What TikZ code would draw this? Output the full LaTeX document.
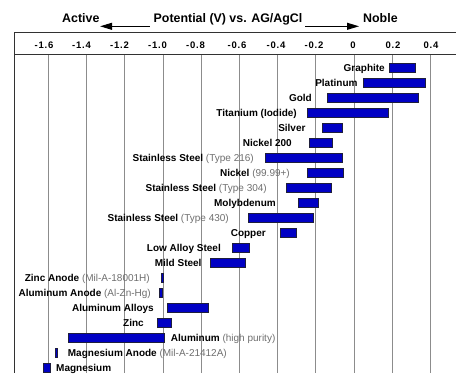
\documentclass[tikz,border=0pt]{standalone}
\usepackage{fontspec}
\setmainfont{Liberation Sans}
\usetikzlibrary{arrows.meta}
\definecolor{barblue}{RGB}{0,0,196}
\definecolor{baredge}{RGB}{30,30,60}
\definecolor{gridgray}{RGB}{140,140,140}
\definecolor{framegray}{RGB}{50,50,50}
\definecolor{notegray}{RGB}{110,110,110}
\begin{document}
\begin{tikzpicture}[x=1pt,y=-1pt,
  bar/.style={draw=baredge,line width=0.6pt,fill=barblue,inner sep=0pt,minimum height=9pt,anchor=west},
  lab/.style={font=\fontsize{10}{12}\selectfont\bfseries,inner sep=0pt},
  tick/.style={font=\fontsize{9.5}{11}\selectfont\bfseries\addfontfeature{LetterSpace=8},inner sep=0pt,anchor=base},
  ttl/.style={font=\fontsize{12.4}{14}\selectfont\bfseries,inner sep=0pt,anchor=base west},
  gridline/.style={draw=gridgray,line width=0.8pt},
  frame/.style={draw=framegray,line width=0.9pt},
  tarrow/.style={-{Triangle[length=12pt,width=7pt]},line width=1pt}]
\useasboundingbox (0,0) rectangle (456,373);
\newcommand{\nt}[1]{{\mdseries\color{notegray}#1}}
% title
\node[ttl] (act) at (62,22) {Active};
\node[ttl] (pot) at (153.5,22) {Potential (V) vs. AG/AgCl};
\node[ttl] (nob) at (363,22) {Noble};
\draw[tarrow] ([xshift=-4pt,yshift=-4.3pt]pot.base west) -- ([xshift=0.5pt,yshift=-4.3pt]act.base east);
\draw[tarrow] ([xshift=3pt,yshift=-4.3pt]pot.base east) -- ([xshift=-4pt,yshift=-4.3pt]nob.base west);
% grid
\foreach \gx in {48.4,86.6,124.8,163,201.2,239.4,277.6,315.8,354,392.2,430.4}
  \draw[gridline] (\gx,54.5) -- (\gx,373);
% frame
\draw[frame] (456,32.5) -- (14,32.5) -- (14,373);
\draw[frame] (14,54.5) -- (456,54.5);
% ticks
\node[tick] (t1) at (44,48.6) {-1.6};
\node[tick] (t2) at (81.5,48.6) {-1.4};
\node[tick] (t3) at (119.5,48.6) {-1.2};
\node[tick] (t4) at (157.5,48.6) {-1.0};
\node[tick] (t5) at (195.5,48.6) {-0.8};
\node[tick] (t6) at (237,48.6) {-0.6};
\node[tick] (t7) at (276,48.6) {-0.4};
\node[tick] (t8) at (314,48.6) {-0.2};
\node[tick] (t9) at (353,48.6) {0};
\node[tick] (t10) at (393,48.6) {0.2};
\node[tick] (t11) at (431,48.6) {0.4};
% bars
\node[bar,minimum width=26pt] (b0) at (389,67.7) {};
\node[bar,minimum width=62pt] (b1) at (363,82.7) {};
\node[bar,minimum width=91pt] (b2) at (327,97.7) {};
\node[bar,minimum width=81pt] (b3) at (307,112.7) {};
\node[bar,minimum width=20pt] (b4) at (322,127.7) {};
\node[bar,minimum width=23pt] (b5) at (309,142.7) {};
\node[bar,minimum width=77pt] (b6) at (265,157.7) {};
\node[bar,minimum width=36pt] (b7) at (307,172.7) {};
\node[bar,minimum width=45pt] (b8) at (286,187.7) {};
\node[bar,minimum width=20pt] (b9) at (298,202.7) {};
\node[bar,minimum width=65pt] (b10) at (248,217.7) {};
\node[bar,minimum width=16pt] (b11) at (280,232.7) {};
\node[bar,minimum width=17pt] (b12) at (232,247.7) {};
\node[bar,minimum width=35pt] (b13) at (210,262.7) {};
\node[bar,minimum width=2.3pt] (b14) at (161,277.7) {};
\node[bar,minimum width=2.5pt] (b15) at (159.4,292.7) {};
\node[bar,minimum width=41.6pt] (b16) at (166.7,307.7) {};
\node[bar,minimum width=14pt] (b17) at (156.7,322.7) {};
\node[bar,minimum width=96pt] (b18) at (68.3,337.7) {};
\node[bar,minimum width=2.3pt] (b19) at (55,352.7) {};
\node[bar,minimum width=6.7pt] (b20) at (43.3,367.7) {};
% labels
\node[lab,anchor=base east] (l0) at (385,71.2) {Graphite};
\node[lab,anchor=base east] (l1) at (357.7,86.2) {Platinum};
\node[lab,anchor=base east] (l2) at (312,101.2) {Gold};
\node[lab,anchor=base east] (l3) at (297,116.2) {Titanium (Iodide)};
\node[lab,anchor=base east] (l4) at (305.7,131.2) {Silver};
\node[lab,anchor=base east] (l5) at (292,146.2) {Nickel 200};
\node[lab,anchor=base east] (l6) at (254,161.2) {Stainless Steel \nt{(Type 216)}};
\node[lab,anchor=base east] (l7) at (290,176.2) {Nickel \nt{(99.99+)}};
\node[lab,anchor=base east] (l8) at (267,191.2) {Stainless Steel \nt{(Type 304)}};
\node[lab,anchor=base east] (l9) at (276,206.2) {Molybdenum};
\node[lab,anchor=base east] (l10) at (229,221.2) {Stainless Steel \nt{(Type 430)}};
\node[lab,anchor=base east] (l11) at (266,236.2) {Copper};
\node[lab,anchor=base east] (l12) at (221,251.2) {Low Alloy Steel};
\node[lab,anchor=base east] (l13) at (201.7,266.2) {Mild Steel};
\node[lab,anchor=base east] (l14) at (150,281.2) {Zinc Anode \nt{(Mil-A-18001H)}};
\node[lab,anchor=base east] (l15) at (151,296.2) {Aluminum Anode \nt{(Al-Zn-Hg)}};
\node[lab,anchor=base east] (l16) at (154,311.2) {Aluminum Alloys};
\node[lab,anchor=base east] (l17) at (144,326.2) {Zinc};
\node[lab,anchor=base west] (l18) at (170.7,341.2) {Aluminum \nt{(high purity)}};
\node[lab,anchor=base west] (l19) at (67.7,356.2) {Magnesium Anode \nt{(Mil-A-21412A)}};
\node[lab,anchor=base west] (l20) at (56,371.2) {Magnesium};
\end{tikzpicture}
\end{document}
